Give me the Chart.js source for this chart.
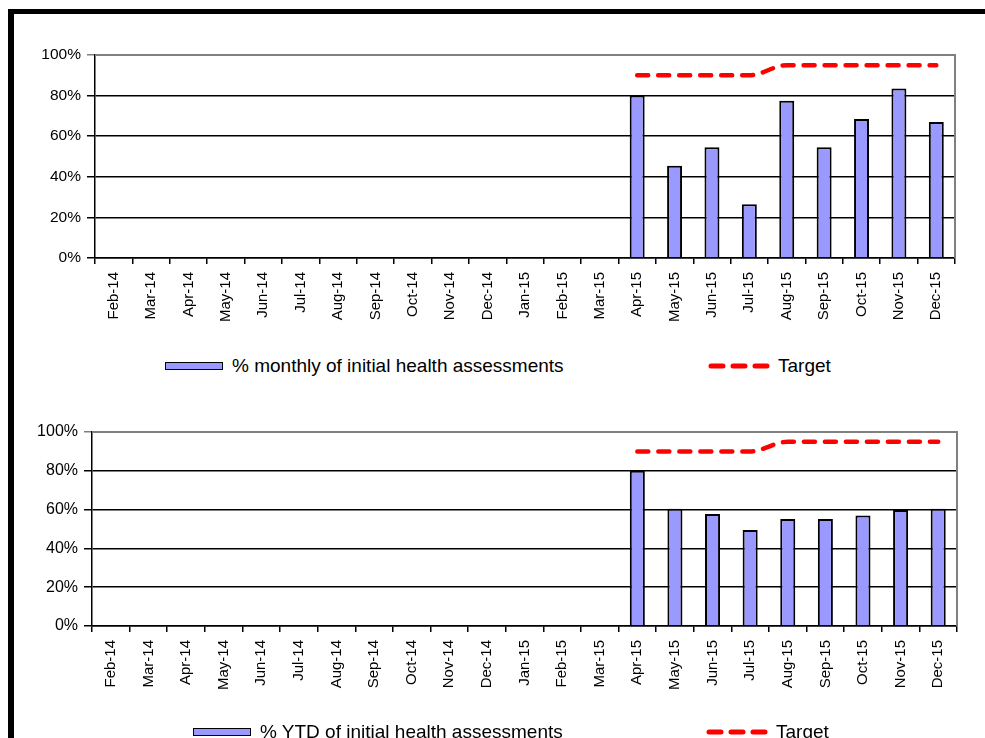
<!DOCTYPE html>
<html>
<head>
<meta charset="utf-8">
<script src="https://cdn.jsdelivr.net/npm/chart.js@4/dist/chart.umd.min.js"></script>
<style>
  body { margin: 0; background: #fff; font-family: "Liberation Sans", Arial, sans-serif; }
  #page { position: relative; width: 985px; height: 738px; overflow: hidden; }
  #frame { position: absolute; left: 8px; top: 9px; width: 1000px; height: 800px;
           border-top: 5px solid #000; border-left: 6px solid #000; }
  .wrap { position: absolute; left: 0; width: 985px; }
  .leg { position: absolute; font-size: 19px; color: #000; white-space: nowrap; line-height: 22px; }
  .swatch { position: absolute; width: 56px; height: 6px; background: #9999ff; border: 1.5px solid #000; }
</style>
</head>
<body>
<div id="page">
  <div id="frame"></div>
  <div class="wrap" style="top:0;height:345px"><canvas id="chart1"></canvas></div>
  <div class="wrap" style="top:380px;height:358px"><canvas id="chart2"></canvas></div>
  <div id="legend1"></div>
  <div id="legend2"></div>
</div>
<script>
// mesi sull'asse x
var mesi = ['Feb-14', 'Mar-14', 'Apr-14', 'May-14', 'Jun-14', 'Jul-14', 'Aug-14', 'Sep-14',
            'Oct-14', 'Nov-14', 'Dec-14', 'Jan-15', 'Feb-15', 'Mar-15', 'Apr-15', 'May-15',
            'Jun-15', 'Jul-15', 'Aug-15', 'Sep-15', 'Oct-15', 'Nov-15', 'Dec-15'];

// valori mensili (%)
var mensile = [null, null, null, null, null, null, null, null, null, null, null, null, null, null,
               80, 45.5, 54.5, 26.5, 77.5, 54.5, 68.5, 83.5, 67];

// valori progressivi da inizio anno (%)
var progressivo = [null, null, null, null, null, null, null, null, null, null, null, null, null, null,
                   80, 60.5, 57.7, 49.5, 55.2, 55.2, 57, 59.8, 60.5];

// obiettivo (%)
var obiettivo = [null, null, null, null, null, null, null, null, null, null, null, null, null, null,
                 90, 90, 90, 90, 95, 95, 95, 95, 95];

var tacche_y = [0, 20, 40, 60, 80, 100];

var etichetta_mensile = '% monthly of initial health assessments';
var etichetta_progressivo = '% YTD of initial health assessments';
var etichetta_obiettivo = 'Target';

var font = '"Liberation Sans", Arial, sans-serif';

// linee grigie in alto e a destra dell'area del grafico
var cornice = {
    id: 'cornice',
    beforeDatasetsDraw: function(chart) {
        var a = chart.chartArea, c = chart.ctx;
        c.save();
        c.strokeStyle = '#808080';
        c.lineWidth = 2;
        c.beginPath();
        c.moveTo(a.left, a.top);
        c.lineTo(a.right, a.top);
        c.lineTo(a.right, a.bottom);
        c.stroke();
        c.restore();
    }
};

function creaGrafico(id, valori, etichetta, asseY, asseX, top, right, fontY) {
    var ctx = document.getElementById(id).getContext('2d');
    return new Chart(ctx, {
        type: 'bar',
        data: {
            labels: mesi,
            datasets: [{
                type: 'line',
                label: etichetta_obiettivo,
                data: obiettivo,
                borderColor: '#ff0000',
                borderWidth: 4.5,
                borderDash: [11, 10],
                borderCapStyle: 'round',
                cubicInterpolationMode: 'monotone',
                pointRadius: 0,
                fill: false,
                order: 0
            }, {
                label: etichetta,
                data: valori,
                backgroundColor: '#9999ff',
                borderColor: '#000',
                borderWidth: 2,
                borderSkipped: 'bottom',
                barPercentage: 0.4,
                categoryPercentage: 1,
                order: 1
            }]
        },
        plugins: [cornice],
        options: {
            responsive: true,
            maintainAspectRatio: false,
            animation: false,
            layout: { padding: { top: top, right: right, left: 0, bottom: 0 } },
            plugins: { legend: { display: false }, tooltip: { enabled: false } },
            scales: {
                x: {
                    afterFit: function(s) { s.height = asseX; },
                    grid: { drawOnChartArea: false, color: '#000', tickLength: 6, lineWidth: 1.5 },
                    border: { color: '#000', width: 1.5 },
                    ticks: { minRotation: 90, maxRotation: 90, padding: 8, color: '#000',
                             font: { family: font, size: 15 } }
                },
                y: {
                    min: 0,
                    max: 100,
                    afterFit: function(s) { s.width = asseY; },
                    afterBuildTicks: function(s) { s.ticks = tacche_y.map(function(v) { return { value: v }; }); },
                    grid: {
                        color: function(c) { return c.tick && c.tick.value === 100 ? '#808080' : '#000'; },
                        lineWidth: 1.5,
                        tickLength: 8
                    },
                    border: { color: '#000', width: 1.5 },
                    ticks: { padding: 6, color: '#000', font: { family: font, size: fontY },
                             callback: function(v) { return v + '%'; } }
                }
            }
        }
    });
}

creaGrafico('chart1', mensile, etichetta_mensile, 95, 87, 55, 30, 15.5);
creaGrafico('chart2', progressivo, etichetta_progressivo, 92, 112, 52, 28, 16);

// legende in HTML
function creaLegenda(id, etichetta, boxX, boxY, lineaX) {
    var el = document.getElementById(id);
    el.innerHTML =
        '<div class="swatch" style="left:' + boxX + 'px;top:' + boxY + 'px"></div>' +
        '<div class="leg" style="left:' + (boxX + 67) + 'px;top:' + (boxY - 7) + 'px">' + etichetta + '</div>' +
        '<svg style="position:absolute;left:' + lineaX + 'px;top:' + (boxY - 2) + 'px" width="62" height="12">' +
        '<line x1="3" y1="6" x2="59" y2="6" stroke="#ff0000" stroke-width="5" stroke-linecap="round" stroke-dasharray="12,10"/></svg>' +
        '<div class="leg" style="left:' + (lineaX + 70) + 'px;top:' + (boxY - 7) + 'px">' + etichetta_obiettivo + '</div>';
}

creaLegenda('legend1', etichetta_mensile, 165, 362, 708);
creaLegenda('legend2', etichetta_progressivo, 193, 728, 706);
</script>
</body>
</html>
